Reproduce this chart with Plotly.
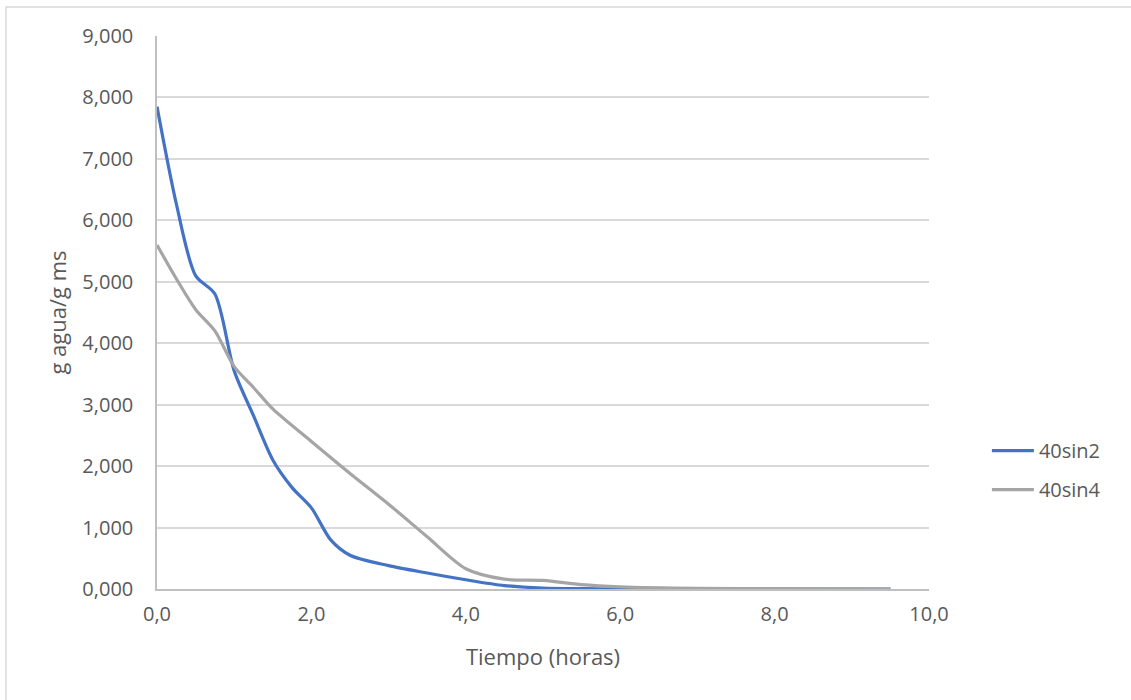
import plotly.graph_objects as go

# Drying curves: moisture content (g water / g dry solid) vs time (hours)
tiempo_sin2 = [0.0, 0.25, 0.5, 0.75, 1.0, 1.25, 1.5, 1.75, 2.0, 2.25, 2.5, 3.0, 3.5, 4.0, 4.5, 5.0, 5.5, 6.0, 7.0, 8.0, 9.5]
humedad_sin2 = [7.85, 6.27, 5.10, 4.80, 3.55, 2.82, 2.10, 1.65, 1.32, 0.80, 0.55, 0.38, 0.26, 0.15, 0.055, 0.015, 0.005, 0.002, 0.0, 0.0, 0.0]

tiempo_sin4 = [0.0, 0.25, 0.5, 0.75, 1.0, 1.25, 1.5, 2.0, 2.5, 3.0, 3.5, 4.0, 4.5, 5.0, 5.5, 6.0, 7.0, 8.0, 9.5]
humedad_sin4 = [5.60, 5.05, 4.55, 4.20, 3.62, 3.28, 2.93, 2.40, 1.88, 1.38, 0.85, 0.33, 0.16, 0.14, 0.07, 0.035, 0.01, 0.005, 0.0]

nombres = ["40sin2", "40sin4"]
colores = ["#4472C4", "#A5A5A5"]

FONT = "'Open Sans', Calibri, sans-serif"
TXT = "#595959"

fig = go.Figure()
for i, (xs, ys) in enumerate([(tiempo_sin2, humedad_sin2), (tiempo_sin4, humedad_sin4)]):
    fig.add_trace(go.Scatter(
        x=xs, y=ys, mode="lines", name=nombres[i],
        line=dict(color=colores[i], width=3.2, shape="spline", smoothing=0.8),
        legendgroup=nombres[i],
    ))

fig.update_layout(
    width=1131, height=700,
    margin=dict(l=157, r=202, t=36, b=111),
    paper_bgcolor="white", plot_bgcolor="white",
    separators=",.",
    font=dict(family=FONT, size=20, color=TXT),
    showlegend=True,
    legend=dict(
        x=1.075, y=0.215, xanchor="left", yanchor="middle",
        font=dict(family=FONT, size=20, color=TXT),
        itemwidth=42,
        tracegroupgap=10, bgcolor="rgba(0,0,0,0)",
    ),
    xaxis=dict(
        range=[0, 10], dtick=2, tick0=0, tickformat=".1f",
        showgrid=False, zeroline=False,
        showline=True, linecolor="#bfbfbf", linewidth=1.5,
        ticks="", ticklabelstandoff=6,
        title=dict(text="Tiempo (horas)", font=dict(family=FONT, size=22, color=TXT), standoff=24),
    ),
    yaxis=dict(
        range=[0, 9], dtick=1, tick0=0, tickformat=".3f",
        showgrid=True, gridcolor="#d9d9d9", gridwidth=1.5,
        zeroline=False,
        showline=True, linecolor="#bfbfbf", linewidth=1.5,
        ticks="", ticklabelstandoff=18,
        title=dict(text="g agua/g ms", font=dict(family=FONT, size=22, color=TXT), standoff=10),
    ),
)

# Light outer frame of the chart
fig.add_shape(
    type="rect", xref="paper", yref="paper",
    x0=(6 - 157) / 772, x1=(1140 - 157) / 772,
    y0=(589 - 710) / 553, y1=(589 - 7) / 553,
    line=dict(color="#d9d9d9", width=1.5), fillcolor="rgba(0,0,0,0)", layer="below",
)

fig.write_html("out.html")
